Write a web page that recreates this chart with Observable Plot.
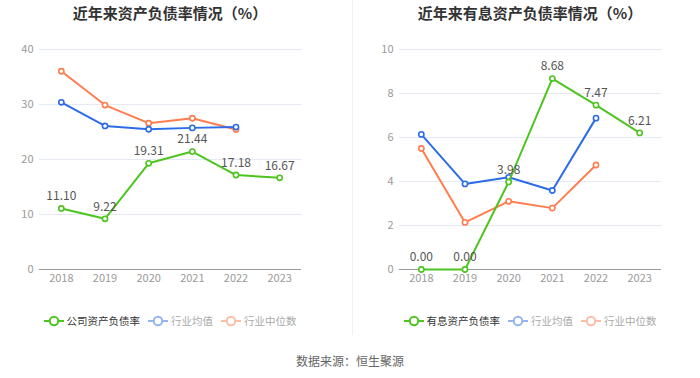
<!DOCTYPE html>
<html>
<head>
<meta charset="utf-8">
<script src="https://cdn.jsdelivr.net/npm/d3@7"></script>
<script src="https://cdn.jsdelivr.net/npm/@observablehq/plot@0.6"></script>
<style>
  body { margin: 0; background: #fff; font-family: "Noto Sans CJK SC", "Noto Sans", sans-serif; }
  #root { position: relative; width: 700px; height: 378px; overflow: hidden; background: #fff; }
  .title { position: absolute; top: 2px; font-size: 15px; font-weight: bold; color: #333; text-align: center; white-space: nowrap; }
  .plot { position: absolute; top: 30px; }
  .legend { position: absolute; top: 313px; display: flex; justify-content: center; align-items: center; font-size: 10.5px; white-space: nowrap; }
  .legend .item { display: flex; align-items: center; margin: 0 4px; }
  .legend svg { margin-right: 3px; }
  .divider { position: absolute; left: 352px; top: 0; width: 1px; height: 335px; background: #f0f0f0; }
  .caption { position: absolute; top: 352px; width: 700px; text-align: center; font-size: 12px; color: #666; }
</style>
</head>
<body>
<div id="root"></div>
<script>
const years = ["2018", "2019", "2020", "2021", "2022", "2023"];
const industryYears = ["2018", "2019", "2020", "2021", "2022"];

const companyDebt = [11.10, 9.22, 19.31, 21.44, 17.18, 16.67];
const avgDebt = [30.4, 26.1, 25.5, 25.75, 25.9];
const medDebt = [36.05, 29.9, 26.6, 27.5, 25.45];

const companyInterest = [0.00, 0.00, 3.98, 8.68, 7.47, 6.21];
const avgInterest = [6.14, 3.89, 4.19, 3.59, 6.88];
const medInterest = [5.5, 2.14, 3.1, 2.79, 4.75];

const debtTicks = [0, 10, 20, 30, 40];
const interestTicks = [0, 2, 4, 6, 8, 10];

const titles = ["近年来资产负债率情况（%）", "近年来有息资产负债率情况（%）"];
const legendNames = [["公司资产负债率", "行业均值", "行业中位数"], ["有息资产负债率", "行业均值", "行业中位数"]];
const caption = "数据来源：恒生聚源";

const GREEN = "#4ec41f", BLUE = "#2d6ce8", ORANGE = "#ff7d4f";

const rows = (xs, vs) => xs.map((x, i) => ({year: x, value: vs[i]}));

function chart(company, avg, med, ticks, ml, mr) {
  const c = rows(years, company), a = rows(industryYears, avg), m = rows(industryYears, med);
  const series = (data, color) => [
    Plot.line(data, {x: "year", y: "value", stroke: color, strokeWidth: 2}),
    Plot.dot(data, {x: "year", y: "value", r: 2.6, fill: "#fff", stroke: color, strokeWidth: 1.6})
  ];
  return Plot.plot({
    width: 350, height: 260,
    marginTop: 19, marginBottom: 21, marginLeft: ml, marginRight: mr,
    style: {fontFamily: '"Noto Sans CJK SC", "Noto Sans", sans-serif', background: "transparent"},
    x: {type: "point", domain: years, padding: 0.5, round: false},
    y: {domain: [ticks[0], ticks[ticks.length - 1]]},
    marks: [
      Plot.gridY(ticks, {stroke: "#e4e9f3", strokeOpacity: 1}),
      Plot.ruleY([0], {stroke: "#999"}),
      Plot.axisY(ticks, {tickSize: 0, tickPadding: 6, fill: "#9a9a9a", fontSize: 11, label: null}),
      Plot.axisX({tickSize: 0, tickPadding: 5, fill: "#9a9a9a", fontSize: 11, label: null}),
      ...series(m, ORANGE),
      ...series(a, BLUE),
      ...series(c, GREEN),
      Plot.text(c, {x: "year", y: "value", text: d => d.value.toFixed(2), dy: -12, fill: "#555", fontSize: 12})
    ]
  });
}

function icon(color, opacity) {
  return `<svg width="20" height="12" style="opacity:${opacity}"><line x1="0" y1="6" x2="20" y2="6" stroke="${color}" stroke-width="2"/><circle cx="10" cy="6" r="4.2" fill="#fff" stroke="${color}" stroke-width="2"/></svg>`;
}

const root = document.getElementById("root");
const configs = [
  {left: 0, plotLeft: 39, plotWidth: 262, svg: chart(companyDebt, avgDebt, medDebt, debtTicks, 39, 49)},
  {left: 350, plotLeft: 49, plotWidth: 262, svg: chart(companyInterest, avgInterest, medInterest, interestTicks, 49, 39)}
];
configs.forEach((cfg, k) => {
  const t = document.createElement("div");
  t.className = "title";
  t.style.left = (cfg.left + cfg.plotLeft) + "px";
  t.style.width = cfg.plotWidth + "px";
  t.textContent = titles[k];
  root.appendChild(t);

  const p = document.createElement("div");
  p.className = "plot";
  p.style.left = cfg.left + "px";
  p.appendChild(cfg.svg);
  root.appendChild(p);

  const lg = document.createElement("div");
  lg.className = "legend";
  lg.style.left = (cfg.left + cfg.plotLeft - 20) + "px";
  lg.style.width = (cfg.plotWidth + 40) + "px";
  const cols = [GREEN, BLUE, ORANGE];
  lg.innerHTML = legendNames[k].map((n, i) =>
    `<span class="item">${icon(cols[i], i === 0 ? 1 : 0.5)}<span style="color:${i === 0 ? "#333" : "#aaa"}">${n}</span></span>`
  ).join("");
  root.appendChild(lg);
});
const dv = document.createElement("div");
dv.className = "divider";
root.appendChild(dv);
const cap = document.createElement("div");
cap.className = "caption";
cap.textContent = caption;
root.appendChild(cap);
</script>
</body>
</html>
